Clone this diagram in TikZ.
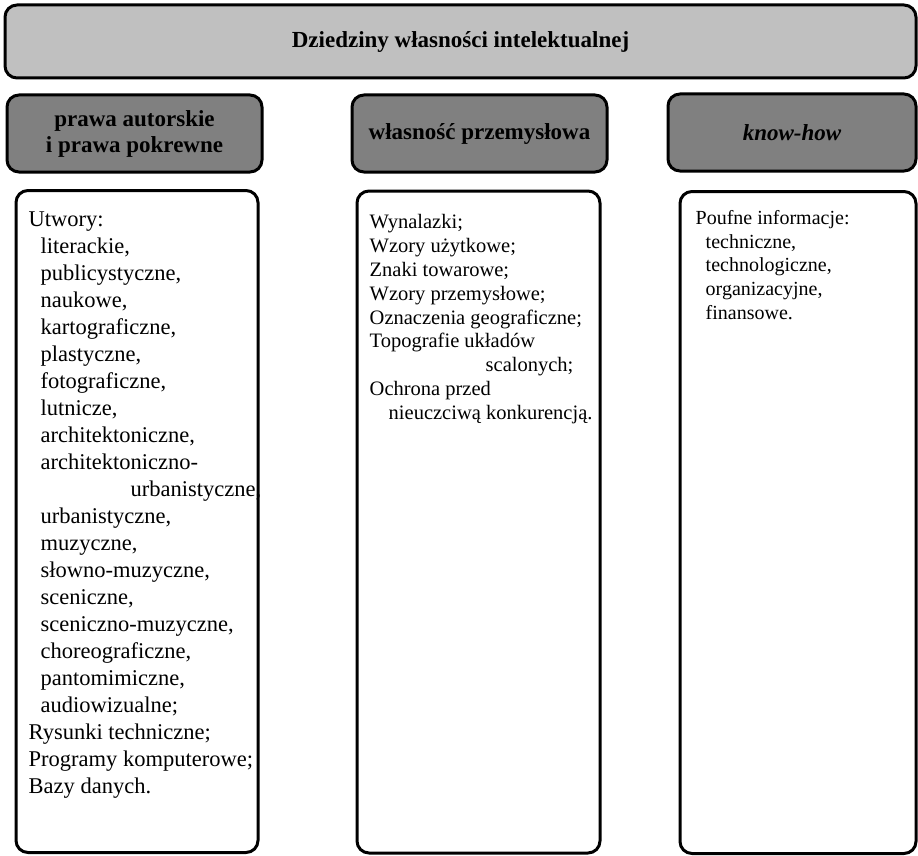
\documentclass[tikz,border=0pt]{standalone}
\usepackage{fontspec}
\usepackage{tikz}
\usepackage{xcolor}
\setmainfont{Liberation Serif}
\usetikzlibrary{calc}

\definecolor{topgray}{RGB}{192,192,192}
\definecolor{headgray}{RGB}{128,128,128}

\begin{document}
\begin{tikzpicture}[x=1pt,y=-1pt,
    boxnode/.style={rectangle, rounded corners=12pt, draw=black, line width=3pt},
    topnode/.style={boxnode, fill=topgray, minimum width=911pt, minimum height=73pt, font=\bfseries\fontsize{23}{26}\selectfont},
    headnode/.style={boxnode, fill=headgray, minimum width=255pt, minimum height=77pt, align=center, font=\bfseries\fontsize{23}{26}\selectfont},
    bodynode/.style={boxnode, fill=white, minimum width=242pt, minimum height=662pt},
    listtext/.style={anchor=north west, inner sep=0pt, align=left}]
            \useasboundingbox (0,0) rectangle (918,856);

            % title
            \node[topnode] (D) at (460.5,41.5) {Dziedziny własności intelektualnej};

            % three domains
            \node[headnode] (PA) at (134.5,133.5) {\raisebox{-2pt}{prawa autorskie}\\\raisebox{-2pt}{i prawa pokrewne}};
            \node[headnode] (WP) at (479.5,133.5) {własność przemysłowa};
            \node[headnode, minimum width=248pt] (KH) at (792,132.5) {\itshape know-how};

            \node[bodynode] (PAb) at (137,521.5) {};
            \node[bodynode, minimum width=243pt] (WPb) at (478.5,522) {};
            \node[bodynode, minimum width=236pt] (KHb) at (798,522.5) {};

            % lists
            \node[listtext, font=\fontsize{22.5}{27}\selectfont] (PAt) at ($(PAb.north west)+(14,23)$)
              {Utwory:\\
               \hspace*{12pt}literackie,\\
               \hspace*{12pt}publicystyczne,\\
               \hspace*{12pt}naukowe,\\
               \hspace*{12pt}kartograficzne,\\
               \hspace*{12pt}plastyczne,\\
               \hspace*{12pt}fotograficzne,\\
               \hspace*{12pt}lutnicze,\\
               \hspace*{12pt}architektoniczne,\\
               \hspace*{12pt}architektoniczno-\\
               \hspace*{102pt}urbanistyczne,\\
               \hspace*{12pt}urbanistyczne,\\
               \hspace*{12pt}muzyczne,\\
               \hspace*{12pt}słowno-muzyczne,\\
               \hspace*{12pt}sceniczne,\\
               \hspace*{12pt}sceniczno-muzyczne,\\
               \hspace*{12pt}choreograficzne,\\
               \hspace*{12pt}pantomimiczne,\\
               \hspace*{12pt}audiowizualne;\\
               Rysunki techniczne;\\
               Programy komputerowe;\\
               Bazy danych.};
            \node[listtext, font=\fontsize{20.5}{23.8}\selectfont] (WPt) at ($(WPb.north west)+(14,25)$)
              {Wynalazki;\\
               Wzory użytkowe;\\
               Znaki towarowe;\\
               Wzory przemysłowe;\\
               Oznaczenia geograficzne;\\
               Topografie układów\\
               \hspace*{116pt}scalonych;\\
               Ochrona przed\\
               \hspace*{19pt}nieuczciwą konkurencją.};
            \node[listtext, font=\fontsize{20}{23.8}\selectfont] (KHt) at ($(KHb.north west)+(17,20)$)
              {Poufne informacje:\\
               \hspace*{10pt}techniczne,\\
               \hspace*{10pt}technologiczne,\\
               \hspace*{10pt}organizacyjne,\\
               \hspace*{10pt}finansowe.};

\end{tikzpicture}
\end{document}
